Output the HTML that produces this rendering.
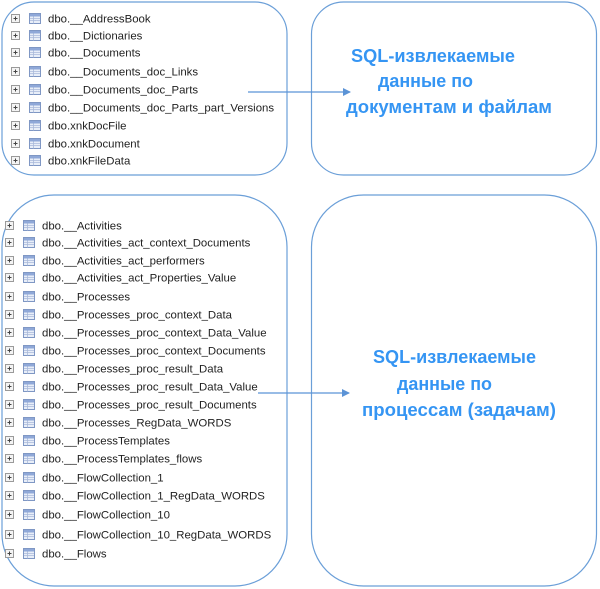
<!DOCTYPE html>
<html><head><meta charset="utf-8"><style>
body{margin:0;background:#fff}
svg{display:block}
.t{font-family:"Liberation Sans",sans-serif;font-size:11.4px;fill:#222}
.b{font-family:"Liberation Sans","Noto Sans CJK SC",sans-serif;font-size:18px;font-weight:bold;fill:#3595f3}
</style></head><body>
<svg width="600" height="589" viewBox="0 0 600 589" xmlns="http://www.w3.org/2000/svg">
<defs>
<g id="pl"><rect x="0.5" y="0.5" width="8" height="8" fill="#f4f4f4" stroke="#9a9a9a"/><path d="M2.5 4.5h4M4.5 2.5v4" stroke="#444" stroke-width="1"/></g>
<g id="ic"><rect x="0.5" y="0.5" width="11" height="10" fill="#e8eef8" stroke="#7f97c4"/><rect x="1" y="1" width="10" height="2.5" fill="#8fa8d8"/><path d="M1 5.5h10M1 7.5h10M4.5 3.5v7" stroke="#a9b9da" stroke-width="0.8"/></g>
<marker id="ar" markerWidth="8" markerHeight="8" refX="7" refY="4" orient="auto" markerUnits="userSpaceOnUse"><path d="M0 0L8 4L0 8z" fill="#5b93d6"/></marker>
</defs>
<rect x="2" y="2" width="285" height="173" rx="32" fill="none" stroke="#6b9fd8" stroke-width="1.2"/>
<rect x="311.5" y="2" width="285" height="173" rx="32" fill="none" stroke="#6b9fd8" stroke-width="1.2"/>
<rect x="2" y="195" width="285" height="391" rx="52" fill="none" stroke="#6b9fd8" stroke-width="1.2"/>
<rect x="311.5" y="195" width="285" height="391" rx="52" fill="none" stroke="#6b9fd8" stroke-width="1.2"/>

<g>
<use href="#pl" x="11" y="14"/><use href="#ic" x="29" y="13"/><text class="t" x="48" y="22.5">dbo.__AddressBook</text>
<use href="#pl" x="11" y="31"/><use href="#ic" x="29" y="30"/><text class="t" x="48" y="39.5">dbo.__Dictionaries</text>
<use href="#pl" x="11" y="48"/><use href="#ic" x="29" y="47"/><text class="t" x="48" y="56.5">dbo.__Documents</text>
<use href="#pl" x="11" y="67"/><use href="#ic" x="29" y="66"/><text class="t" x="48" y="75.5">dbo.__Documents_doc_Links</text>
<use href="#pl" x="11" y="85"/><use href="#ic" x="29" y="84"/><text class="t" x="48" y="93.5">dbo.__Documents_doc_Parts</text>
<use href="#pl" x="11" y="103"/><use href="#ic" x="29" y="102"/><text class="t" x="48" y="111.5">dbo.__Documents_doc_Parts_part_Versions</text>
<use href="#pl" x="11" y="121"/><use href="#ic" x="29" y="120"/><text class="t" x="48" y="129.5">dbo.xnkDocFile</text>
<use href="#pl" x="11" y="139"/><use href="#ic" x="29" y="138"/><text class="t" x="48" y="147.5">dbo.xnkDocument</text>
<use href="#pl" x="11" y="156"/><use href="#ic" x="29" y="155"/><text class="t" x="48" y="164.5">dbo.xnkFileData</text>
</g>

<g>
<use href="#pl" x="5" y="221"/><use href="#ic" x="23" y="220"/><text class="t" x="42" y="229.5">dbo.__Activities</text>
<use href="#pl" x="5" y="238"/><use href="#ic" x="23" y="237"/><text class="t" x="42" y="246.5">dbo.__Activities_act_context_Documents</text>
<use href="#pl" x="5" y="256"/><use href="#ic" x="23" y="255"/><text class="t" x="42" y="264.5">dbo.__Activities_act_performers</text>
<use href="#pl" x="5" y="273"/><use href="#ic" x="23" y="272"/><text class="t" x="42" y="281.5">dbo.__Activities_act_Properties_Value</text>
<use href="#pl" x="5" y="292"/><use href="#ic" x="23" y="291"/><text class="t" x="42" y="300.5">dbo.__Processes</text>
<use href="#pl" x="5" y="310"/><use href="#ic" x="23" y="309"/><text class="t" x="42" y="318.5">dbo.__Processes_proc_context_Data</text>
<use href="#pl" x="5" y="328"/><use href="#ic" x="23" y="327"/><text class="t" x="42" y="336.5">dbo.__Processes_proc_context_Data_Value</text>
<use href="#pl" x="5" y="346"/><use href="#ic" x="23" y="345"/><text class="t" x="42" y="354.5">dbo.__Processes_proc_context_Documents</text>
<use href="#pl" x="5" y="364"/><use href="#ic" x="23" y="363"/><text class="t" x="42" y="372.5">dbo.__Processes_proc_result_Data</text>
<use href="#pl" x="5" y="382"/><use href="#ic" x="23" y="381"/><text class="t" x="42" y="390.5">dbo.__Processes_proc_result_Data_Value</text>
<use href="#pl" x="5" y="400"/><use href="#ic" x="23" y="399"/><text class="t" x="42" y="408.5">dbo.__Processes_proc_result_Documents</text>
<use href="#pl" x="5" y="418"/><use href="#ic" x="23" y="417"/><text class="t" x="42" y="426.5">dbo.__Processes_RegData_WORDS</text>
<use href="#pl" x="5" y="436"/><use href="#ic" x="23" y="435"/><text class="t" x="42" y="444.5">dbo.__ProcessTemplates</text>
<use href="#pl" x="5" y="454"/><use href="#ic" x="23" y="453"/><text class="t" x="42" y="462.5">dbo.__ProcessTemplates_flows</text>
<use href="#pl" x="5" y="473"/><use href="#ic" x="23" y="472"/><text class="t" x="42" y="481.5">dbo.__FlowCollection_1</text>
<use href="#pl" x="5" y="491"/><use href="#ic" x="23" y="490"/><text class="t" x="42" y="499.5">dbo.__FlowCollection_1_RegData_WORDS</text>
<use href="#pl" x="5" y="510"/><use href="#ic" x="23" y="509"/><text class="t" x="42" y="518.5">dbo.__FlowCollection_10</text>
<use href="#pl" x="5" y="530"/><use href="#ic" x="23" y="529"/><text class="t" x="42" y="538.5">dbo.__FlowCollection_10_RegData_WORDS</text>
<use href="#pl" x="5" y="549"/><use href="#ic" x="23" y="548"/><text class="t" x="42" y="557.5">dbo.__Flows</text>
</g>

<line x1="248" y1="92" x2="350" y2="92" stroke="#5b93d6" stroke-width="1.2" marker-end="url(#ar)"/>
<line x1="258" y1="393" x2="349" y2="393" stroke="#5b93d6" stroke-width="1.2" marker-end="url(#ar)"/>

<text class="b" x="351" y="62" textLength="164" lengthAdjust="spacingAndGlyphs">SQL-извлекаемые</text>
<text class="b" x="378" y="87" textLength="95" lengthAdjust="spacingAndGlyphs">данные по</text>
<text class="b" x="346" y="113" textLength="206" lengthAdjust="spacingAndGlyphs">документам и файлам</text>

<text class="b" x="373" y="363" textLength="163" lengthAdjust="spacingAndGlyphs">SQL-извлекаемые</text>
<text class="b" x="397" y="390" textLength="95" lengthAdjust="spacingAndGlyphs">данные по</text>
<text class="b" x="362" y="416" textLength="194" lengthAdjust="spacingAndGlyphs">процессам (задачам)</text>
</svg>
</body></html>
